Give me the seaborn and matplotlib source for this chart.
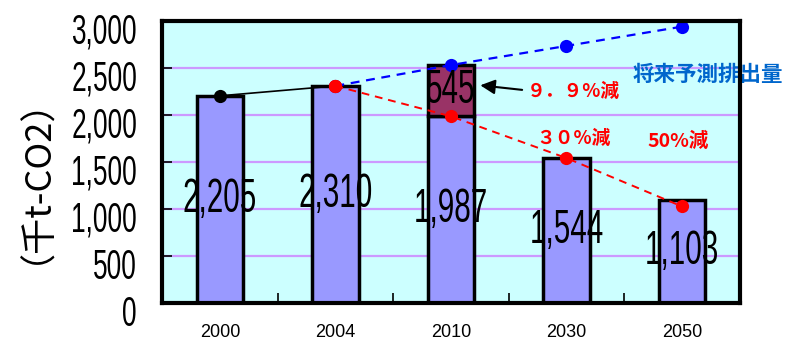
import numpy as np
import pandas as pd
import matplotlib.pyplot as plt
import seaborn as sns
from matplotlib import font_manager
from matplotlib.ticker import FuncFormatter, FixedLocator
from matplotlib.patheffects import AbstractPathEffect
from matplotlib.transforms import Affine2D, ScaledTranslation

years = ['2000', '2004', '2010', '2030', '2050']
emissions = [2205, 2310, 1987, 1544, 1103]
gap_2010 = 545  # shortfall to target in 2010

hist_years = ['2000', '2004']
hist_values = [2205, 2310]
forecast_years = ['2004', '2010', '2030', '2050']
forecast_values = [2310, 2532, 2735, 2940]
target_years = ['2004', '2010', '2030', '2050']
target_values = [2310, 1987, 1544, 1030]

SX = 0.61  # the original numbers are set in a very narrow face


class Squeeze(AbstractPathEffect):
    def __init__(self, sx, anchor='center'):
        super().__init__()
        self.sx = sx
        self.anchor = anchor

    def draw_path(self, renderer, gc, tpath, affine, rgbFace=None):
        xs = tpath.vertices[:, 0]
        if len(xs) == 0:
            return
        x0 = xs.max() if self.anchor == 'right' else (xs.min() + xs.max()) / 2
        t = Affine2D().translate(-x0, 0).scale(self.sx, 1).translate(x0, 0) + affine
        renderer.draw_path(gc, tpath, t, rgbFace)


def make_narrow(sx, name='LibNarrow'):
    # build a horizontally condensed copy of Liberation Sans
    from fontTools.ttLib import TTFont
    from fontTools.pens.ttGlyphPen import TTGlyphPen
    from fontTools.pens.transformPen import TransformPen
    src = font_manager.findfont(font_manager.FontProperties(family='Liberation Sans'))
    f = TTFont(src)
    glyf, hmtx = f['glyf'], f['hmtx']
    for g in f.getGlyphOrder():
        glyph = glyf[g]
        if not glyph.isComposite():
            pen = TTGlyphPen(None)
            glyph.draw(TransformPen(pen, (sx, 0, 0, 1, 0, 0)), glyf)
            glyf[g] = pen.glyph()
        w, lsb = hmtx[g]
        hmtx[g] = (int(round(w * sx)), int(round(lsb * sx)))
    for tag in ['hdmx', 'LTSH', 'VDMX', 'kern', 'GPOS']:
        if tag in f:
            del f[tag]
    for rec in f['name'].names:
        if rec.nameID in (1, 4, 16):
            rec.string = name
        elif rec.nameID == 6:
            rec.string = name + '-Regular'
    f.save('narrow.ttf')
    font_manager.fontManager.addfont('narrow.ttf')
    return name


try:
    narrow = make_narrow(SX)
except Exception:
    narrow = None

sns.set_style('ticks')
plt.rcParams['font.family'] = ['Liberation Sans', 'Noto Sans CJK JP', 'DejaVu Sans']
for k in ['text.color', 'axes.labelcolor', 'xtick.color', 'ytick.color']:
    plt.rcParams[k] = 'black'
jp = ['Noto Sans CJK JP', 'DejaVu Sans']


def narrow_text(t, anchor='center'):
    if narrow:
        t.set_family(narrow)
    else:
        t.set_path_effects([Squeeze(SX, anchor)])


fig = plt.figure(figsize=(7.87, 3.44), dpi=100)
ax = fig.add_axes([0.206, 0.118, 0.734, 0.821])
ax.set_facecolor('#CCFFFF')

df = pd.DataFrame({'year': years, 'value': emissions})
sns.barplot(data=df, x='year', y='value', order=years, color='#9999FF', saturation=1,
            width=0.4, edgecolor='black', linewidth=2.5, ax=ax, zorder=2)
base = ax.containers[0]
for t in ax.bar_label(base, labels=[f'{v:,}' for v in emissions], label_type='center',
                      fontsize=35, zorder=6):
    narrow_text(t)

i10 = years.index('2010')
top = ax.bar(i10, gap_2010, bottom=emissions[i10], width=0.4, color='#993366',
             edgecolor='black', linewidth=2.5, zorder=2)
for t in ax.bar_label(top, labels=[str(gap_2010)], label_type='center', fontsize=35, zorder=6):
    narrow_text(t)

pos = {y: i for i, y in enumerate(years)}
lines = pd.DataFrame({
    'x': [pos[y] for y in hist_years] + [pos[y] for y in forecast_years] + [pos[y] for y in target_years],
    'value': hist_values + forecast_values + target_values,
    'series': ['hist'] * len(hist_years) + ['forecast'] * len(forecast_years) + ['target'] * len(target_years),
})
sns.lineplot(data=lines[lines.series == 'forecast'], x='x', y='value', color='#0000FF',
             lw=1.6, dashes=(4, 3), marker='o', ms=9.5, mec='none', ax=ax, zorder=4)
sns.lineplot(data=lines[lines.series == 'target'], x='x', y='value', color='#FF0000',
             lw=1.4, dashes=(4, 3), marker='o', ms=9.5, mec='none', ax=ax, zorder=4)
sns.lineplot(data=lines[lines.series == 'hist'], x='x', y='value', color='black',
             lw=1.2, ax=ax, zorder=4)
ax.plot(pos['2000'], hist_values[0], 'o', color='black', ms=9.5, mec='none', zorder=5)
ax.plot(pos['2004'], hist_values[1], 'o', color='#FF0000', ms=9.5, mec='none', zorder=5)

ax.annotate('', xy=(2.23, 2320), xytext=(2.64, 2265),
            arrowprops=dict(arrowstyle='-|>', color='black', lw=1.5, mutation_scale=22), zorder=6)
ax.text(3.06, 2246, '９．９%減', color='#FF0000', fontsize=13.5, fontweight='bold',
        family=jp, ha='center', va='center', zorder=6)
ax.text(3.06, 1757, '３０%減', color='#FF0000', fontsize=13.5, fontweight='bold',
        family=jp, ha='center', va='center', zorder=6)
ax.text(3.97, 1716, '50%減', color='#FF0000', fontsize=14, fontweight='bold',
        family=jp, ha='center', va='center', zorder=6)
ax.text(4.22, 2437, '将来予測排出量', color='#0066CC', fontsize=15.5, fontweight='bold',
        family=jp, ha='center', va='center', zorder=6, clip_on=False)

ax.set_xlim(-0.5, 4.5)
ax.set_ylim(0, 3000)
ax.set_yticks(np.arange(0, 3001, 500))
ax.yaxis.set_major_formatter(FuncFormatter(lambda v, p: f'{int(v):,}'))
ax.yaxis.grid(True, color='#CC99FF', lw=1.6, zorder=0)
ax.set_axisbelow(True)
ax.tick_params(axis='y', direction='in', length=7, width=1.2, pad=18, labelsize=31)
ax.tick_params(axis='x', which='major', length=0, pad=15, labelsize=13)
ax.xaxis.set_minor_locator(FixedLocator(np.arange(0.5, 4.0, 1.0)))
ax.tick_params(axis='x', which='minor', direction='in', length=7, width=1.2)
for lab in ax.get_yticklabels():
    narrow_text(lab, anchor='right')
    lab.set_transform(lab.get_transform() + ScaledTranslation(0, -5 / 72, fig.dpi_scale_trans))
for s in ax.spines.values():
    s.set_visible(True)
    s.set_linewidth(3)
    s.set_color('black')
    s.set_zorder(7)

ax.set_xlabel('')
ax.set_ylabel('（千t-CO2）', family=jp, fontsize=26, va='center')
ax.yaxis.set_label_coords(-0.25, 0.5)

fig.savefig('out.png', dpi=100)
